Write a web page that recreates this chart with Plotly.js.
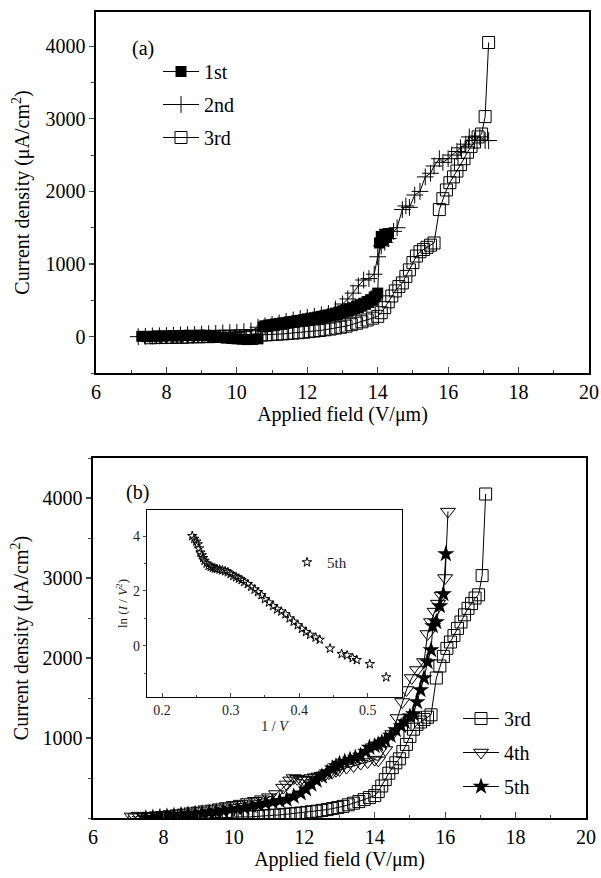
<!DOCTYPE html>
<html>
<head>
<meta charset="utf-8">
<script src="https://cdn.plot.ly/plotly-3.0.1.min.js"></script>
<style>html,body{margin:0;padding:0;background:#fff;}#chart{width:601px;height:878px;}</style>
</head>
<body>
<div id="chart"></div>
<script>
// ---- Panel (a) data ----
var x1st = [7.3,7.45,7.6,7.75,7.9,8.05,8.2,8.35,8.5,8.65,8.8,8.95,9.1,9.25,9.4,9.55,9.7,9.85,10.0,10.15,10.3,10.45,10.6,
  10.75,10.8,10.85,10.9,10.95,11.0,11.05,11.1,11.15,11.2,11.25,11.3,11.35,11.4,11.45,11.5,11.55,11.6,11.65,11.7,11.75,11.8,11.85,11.9,11.95,
  12.0,12.05,12.1,12.15,12.2,12.25,12.3,12.35,12.4,12.45,12.5,12.55,12.6,12.65,12.7,12.75,12.8,12.85,12.9,12.95,
  13.0,13.05,13.1,13.15,13.2,13.25,13.3,13.35,13.4,13.45,13.5,13.55,13.6,13.65,13.7,13.75,13.8,13.85,13.9,13.95,14.0,
  14.05,14.1,14.15,14.2,14.25,14.3];
var y1st = [5,0,5,10,8,12,15,10,18,20,15,22,20,10,0,-10,-20,-25,-30,-35,-40,-38,-30,
  135,150,140,160,150,165,155,175,165,180,170,190,180,195,185,205,195,210,200,220,210,225,215,235,225,
  245,235,255,240,260,250,270,255,280,265,290,275,300,285,310,295,325,305,340,320,
  355,335,370,350,385,365,400,380,420,400,440,420,460,445,485,470,510,500,545,560,600,
  1290,1380,1330,1410,1370,1420];

var x2nd = [7.2,7.4,7.6,7.8,8.0,8.2,8.4,8.6,8.8,9.0,9.2,9.4,9.6,9.8,10.0,10.2,10.4,10.6,10.8,11.0,11.2,11.4,11.6,11.8,12.0,12.2,12.4,12.6,12.8,13.0,13.15,13.3,13.45,13.6,13.75,13.9,14.0,14.1,14.2,14.3,14.45,14.55,14.7,14.8,14.9,15.05,15.2,15.35,15.5,15.6,15.75,15.85,16.0,16.1,16.25,16.35,16.5,16.6,16.75,16.9,17.05,17.15];
var y2nd = [0,5,10,12,15,20,25,28,30,35,40,45,50,55,60,70,80,130,150,170,190,210,230,250,265,280,300,320,380,450,520,600,700,780,800,860,1100,1250,1300,1350,1450,1500,1750,1800,1780,1950,2000,2200,2250,2350,2450,2400,2450,2500,2550,2600,2650,2750,2700,2750,2700,2700];

// 3rd run (shown in both panels)
var x3rd = [7.55,7.7,7.85,8.0,8.15,8.3,8.45,8.6,8.75,8.9,9.05,9.2,9.35,9.5,9.65,9.8,9.95,10.1,10.25,10.4,10.55,10.7,10.85,11.0,11.15,11.3,11.45,11.6,11.75,11.9,12.05,12.2,12.35,12.5,12.65,12.8,12.95,13.1,13.25,13.4,13.55,13.7,13.85,14.0,14.1,14.2,14.3,14.4,14.5,14.6,14.7,14.8,14.9,15.0,15.1,15.2,15.3,15.4,15.5,15.6,15.75,15.85,15.95,16.05,16.15,16.25,16.35,16.45,16.55,16.65,16.75,16.85,16.95,17.05,17.15];
var y3rd = [-15,-10,-12,-8,-10,-5,-8,-5,0,-3,2,0,5,3,8,5,10,12,15,12,18,22,25,30,35,38,45,50,55,62,70,78,85,95,105,118,130,145,165,185,205,230,255,280,330,400,480,560,630,690,740,830,920,1020,1110,1170,1200,1230,1260,1290,1750,1900,2020,2120,2200,2280,2370,2450,2540,2620,2680,2750,2790,3030,4050];

// ---- Panel (b) data ----
var x4th = [7.1,7.2,7.3,7.45,7.6,7.8,8.0,8.2,8.4,8.6,8.8,9.0,9.2,9.4,9.6,9.8,10.0,10.2,10.4,10.6,10.8,11.0,11.2,11.4,11.5,11.6,11.7,11.8,11.9,12.0,12.1,12.2,12.3,12.4,12.5,12.6,12.7,12.8,12.9,13.0,13.2,13.4,13.6,13.8,14.0,14.1,14.3,14.5,14.65,14.78,14.9,15.05,15.2,15.4,15.5,15.6,15.7,15.8,15.9,16.0,16.08];
var y4th = [20,10,30,15,25,35,40,50,60,70,85,95,110,120,135,150,165,180,200,215,235,260,300,380,420,470,500,490,480,470,480,500,510,520,530,545,560,575,590,600,630,650,680,700,730,720,850,1050,1250,1450,1600,1750,1850,1950,2300,2450,2580,2680,2780,3000,3830];

var x5th = [7.5,7.7,7.9,8.1,8.3,8.5,8.7,8.9,9.1,9.3,9.5,9.7,9.9,10.1,10.3,10.5,10.7,10.9,11.1,11.3,11.5,11.7,11.9,12.05,12.2,12.35,12.5,12.65,12.8,12.9,13.0,13.15,13.3,13.45,13.6,13.75,13.85,14.0,14.1,14.2,14.3,14.45,14.6,14.75,14.85,15.0,15.1,15.2,15.3,15.4,15.5,15.6,15.65,15.75,15.85,15.95,16.02];
var y5th = [0,5,15,20,30,40,45,55,60,70,80,90,105,115,130,150,165,185,200,215,230,270,310,360,420,470,520,570,620,650,680,705,730,755,780,830,880,900,920,945,975,1030,1100,1150,1200,1270,1300,1450,1600,1750,1950,2100,2400,2450,2650,2800,3300];

// ---- Inset data: Fowler-Nordheim plot of 5th run ----
var xFN = [0.244,0.247,0.250,0.252,0.254,0.256,0.258,0.260,0.262,0.265,0.268,0.271,0.274,0.277,0.280,0.284,0.288,0.292,0.296,0.300,0.304,0.308,0.312,0.316,0.320,0.325,0.330,0.335,0.340,0.345,0.350,0.356,0.362,0.368,0.374,0.380,0.386,0.392,0.398,0.404,0.410,0.416,0.424,0.430,0.445,0.462,0.470,0.478,0.484,0.503,0.527];
var yFN = [4.0,3.9,3.8,3.7,3.55,3.4,3.3,3.2,3.1,3.0,2.92,2.88,2.85,2.82,2.8,2.78,2.75,2.72,2.68,2.62,2.55,2.5,2.45,2.4,2.33,2.25,2.15,2.05,1.96,1.85,1.7,1.58,1.45,1.33,1.25,1.15,1.0,0.88,0.75,0.62,0.5,0.4,0.3,0.22,-0.1,-0.3,-0.35,-0.45,-0.52,-0.67,-1.15];

var names = ['1st','2nd','3rd','4th','5th'];

var W = 601, H = 878;
var FONT = 'Liberation Serif';
function px(x){return x/W;}
function py(y){return 1 - y/H;}

var ln = {color:'black', width:1};
var traces = [
  {x:x1st, y:y1st, name:names[0], xaxis:'x', yaxis:'y', mode:'lines+markers', line:ln,
   marker:{symbol:'square', size:11, color:'black'}, legend:'legend', legendgroup:'a1'},
  {x:x2nd, y:y2nd, name:names[1], xaxis:'x', yaxis:'y', mode:'lines+markers', line:ln,
   marker:{symbol:'cross-thin-open', size:12, color:'black', line:{color:'black', width:1}}, legend:'legend', legendgroup:'a2'},
  {x:x3rd, y:y3rd, name:names[2], xaxis:'x', yaxis:'y', mode:'lines+markers', line:ln,
   marker:{symbol:'square-open', size:12, color:'black', line:{color:'black', width:1}}, legend:'legend', legendgroup:'a3'},
  {x:x3rd, y:y3rd, name:names[2], xaxis:'x2', yaxis:'y2', mode:'lines+markers', line:ln,
   marker:{symbol:'square-open', size:12, color:'black', line:{color:'black', width:1}}, legend:'legend2', legendgroup:'b3'},
  {x:x4th, y:y4th, name:names[3], xaxis:'x2', yaxis:'y2', mode:'lines+markers', line:ln,
   marker:{symbol:'triangle-down-open', size:13, color:'black', line:{color:'black', width:1}}, legend:'legend2', legendgroup:'b4'},
  {x:x5th, y:y5th, name:names[4], xaxis:'x2', yaxis:'y2', mode:'lines+markers', line:ln,
   marker:{symbol:'star', size:13, color:'black'}, legend:'legend2', legendgroup:'b5'},
  {x:xFN, y:yFN, name:names[4], xaxis:'x3', yaxis:'y3', mode:'markers',
   marker:{symbol:'star-open', size:7, color:'black', line:{color:'black', width:1}}, legend:'legend3'}
];

var tickF = {family:FONT, size:20, color:'black'};
var titleF = {family:FONT, size:20, color:'black'};
function xax(dom, anchor, titleText){
  return {domain:dom, anchor:anchor, range:[6,20], dtick:2, tick0:6, ticks:'inside', ticklen:6, tickwidth:1.2,
    minor:{ticks:'inside', dtick:1, ticklen:3, tickwidth:1},
    showline:true, mirror:true, linewidth:1.6, linecolor:'black', showgrid:false, zeroline:false,
    tickfont:tickF, title:{text:titleText, font:titleF, standoff:1}, automargin:false};
}
var layout = {
  width:W, height:H, margin:{l:0,r:0,t:0,b:0}, paper_bgcolor:'white', plot_bgcolor:'white',
  font:{family:FONT, color:'black'},
  xaxis: xax([px(96),px(589)], 'y', 'Applied field (V/μm)'),
  yaxis: {domain:[py(373),py(12)], anchor:'x', range:[-500,4470], tick0:0, dtick:1000, ticks:'outside', ticklen:5, tickwidth:1.2,
    minor:{ticks:'outside', dtick:500, ticklen:3, tickwidth:1},
    showline:true, mirror:true, linewidth:1.6, linecolor:'black', showgrid:false, zeroline:false,
    tickfont:tickF, title:{text:'Current density (μA/cm<sup>2</sup>)', font:titleF, standoff:10}, automargin:false},
  xaxis2: xax([px(93),px(586)], 'y2', 'Applied field (V/μm)'),
  yaxis2: {domain:[py(818),py(458)], anchor:'x2', range:[0,4500], tickvals:[1000,2000,3000,4000], ticks:'outside', ticklen:5, tickwidth:1.2,
    minor:{ticks:'outside', dtick:500, ticklen:3, tickwidth:1},
    showline:true, mirror:true, linewidth:1.6, linecolor:'black', showgrid:false, zeroline:false,
    tickfont:tickF, title:{text:'Current density (μA/cm<sup>2</sup>)', font:titleF, standoff:8}, automargin:false},
  xaxis3: {domain:[px(147),px(402)], anchor:'y3', range:[0.178,0.55], tick0:0.2, dtick:0.1, ticks:'inside', ticklen:4, tickwidth:1,
    minor:{ticks:'inside', dtick:0.05, ticklen:2, tickwidth:1},
    showline:true, mirror:true, linewidth:1.3, linecolor:'black', showgrid:false, zeroline:false,
    tickfont:{family:FONT, size:14, color:'#222'}, title:{text:'1 / <i>V</i>', font:{family:FONT, size:14, color:'#222'}, standoff:4}, automargin:false},
  yaxis3: {domain:[py(697),py(510)], anchor:'x3', range:[-1.87,4.95], tickvals:[0,2,4], ticks:'outside', ticklen:3, tickwidth:1,
    minor:{ticks:'outside', dtick:1, ticklen:2, tickwidth:1},
    showline:true, mirror:true, linewidth:1.3, linecolor:'black', showgrid:false, zeroline:false,
    tickfont:{family:FONT, size:14, color:'#222'}, title:{text:'ln (<i>I</i> / <i>V</i><sup>2</sup>)', font:{family:FONT, size:13, color:'#222'}, standoff:2}, automargin:false},
  legend: {x:px(158), y:py(52), xanchor:'left', yanchor:'top', bgcolor:'rgba(0,0,0,0)', font:{family:FONT, size:20, color:'black'},
    traceorder:'grouped', tracegroupgap:4, itemwidth:36},
  legend2: {x:px(458), y:py(699), xanchor:'left', yanchor:'top', bgcolor:'rgba(0,0,0,0)', font:{family:FONT, size:20, color:'black'},
    traceorder:'grouped', tracegroupgap:5, itemwidth:36},
  legend3: {x:px(287), y:py(546), xanchor:'left', yanchor:'top', bgcolor:'rgba(0,0,0,0)', font:{family:FONT, size:15, color:'#222'}, itemwidth:30},
  showlegend:true,
  annotations:[
    {text:'(a)', x:px(130), y:py(35), xref:'paper', yref:'paper', showarrow:false, font:{family:FONT, size:20, color:'black'}},
    {text:'(b)', x:px(124), y:py(492), xref:'paper', yref:'paper', showarrow:false, font:{family:FONT, size:20, color:'black'}}
  ]
};
Plotly.newPlot('chart', traces, layout, {staticPlot:true, displayModeBar:false});
</script>
</body>
</html>
